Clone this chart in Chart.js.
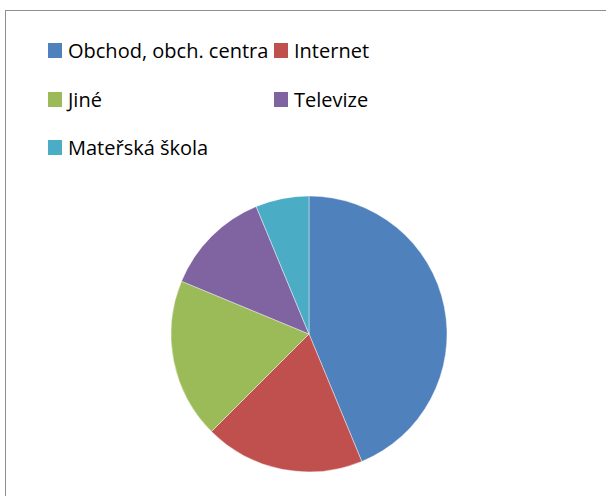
<!DOCTYPE html>
<html>
<head>
<meta charset="utf-8">
<script src="https://cdn.jsdelivr.net/npm/chart.js@4.4.1/dist/chart.umd.min.js"></script>
<style>
    html, body { margin: 0; padding: 0; background: #fff; overflow: hidden; }
    body { width: 606px; height: 496px; position: relative; font-family: "Open Sans", sans-serif; }
    #frame {
        position: absolute; left: 5px; top: 10px; width: 640px; height: 520px;
        border: 1px solid #8e8e8e; box-sizing: border-box;
    }
    #legend { position: absolute; left: 0; top: 0; }
    .lg-item {
        position: absolute; display: flex; align-items: center; height: 30px;
        font-size: 20px; color: #000; white-space: nowrap;
    }
    .lg-box { width: 14px; height: 15px; margin-right: 6px; flex: none; }
    #pieWrap { position: absolute; left: 159px; top: 184px; width: 300px; height: 300px; }
</style>
</head>
<body>
<div id="frame"></div>
<div id="legend"></div>
<div id="pieWrap"><canvas id="chartPie"></canvas></div>
<script>
// Datos del gráfico
const categorias = ['Obchod, obch. centra', 'Internet', 'Jiné', 'Televize', 'Mateřská škola'];
const valores = [7, 3, 3, 2, 1];
const colores = ['#4F81BD', '#C0504D', '#9BBB59', '#8064A2', '#4BACC6'];

const ctx = document.getElementById('chartPie').getContext('2d');
const chart = new Chart(ctx, {
    type: 'pie',
    data: {
        labels: categorias,
        datasets: [{
            data: valores,
            backgroundColor: colores,
            borderColor: 'rgba(255,255,255,0.7)',
            borderWidth: 0.6,
            radius: 138
        }]
    },
    options: {
        responsive: true,
        maintainAspectRatio: false,
        animation: false,
        layout: { padding: 0 },
        plugins: {
            legend: { display: false },
            tooltip: { enabled: false }
        }
    }
});

// Leyenda en dos columnas, generada desde los datos del gráfico
const colX = [48, 274];
const rowY = [50, 99, 147.5];
const legend = document.getElementById('legend');
chart.data.labels.forEach((label, i) => {
    const item = document.createElement('div');
    item.className = 'lg-item';
    item.style.left = colX[i % 2] + 'px';
    item.style.top = (rowY[Math.floor(i / 2)] - 15) + 'px';
    item.innerHTML = `<span class="lg-box" style="background:${chart.data.datasets[0].backgroundColor[i]}"></span><span>${label}</span>`;
    legend.appendChild(item);
});
</script>
</body>
</html>
